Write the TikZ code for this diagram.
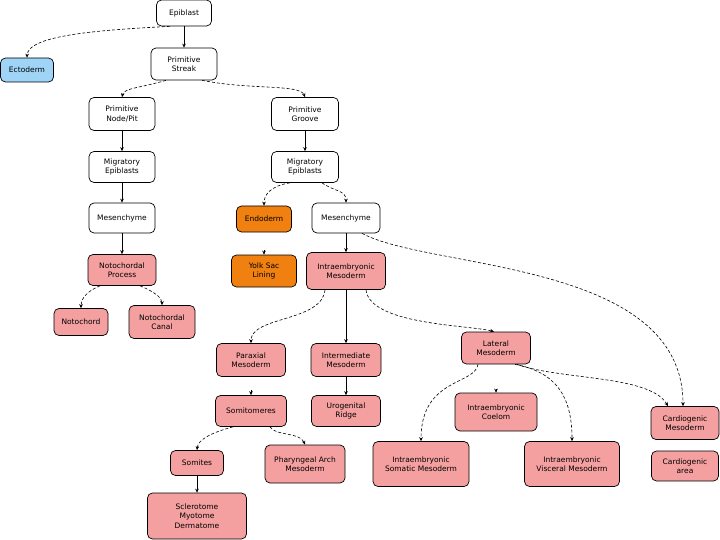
\documentclass[tikz,border=0pt]{standalone}
\usepackage{fontspec}
\setmainfont{DejaVu Sans}
\usetikzlibrary{arrows.meta,calc}
\definecolor{pinkbox}{RGB}{245,160,160}
\definecolor{orangebox}{RGB}{240,128,16}
\definecolor{bluebox}{RGB}{160,212,246}
\tikzset{
  box/.style={draw=black, line width=0.7pt, rounded corners=5pt, align=center,
    font=\fontsize{7.5}{9.5}\selectfont, inner sep=1pt},
  wbox/.style={box, fill=white},
  pbox/.style={box, fill=pinkbox},
  obox/.style={box, fill=orangebox},
  bbox/.style={box, fill=bluebox},
  sz/.style 2 args={minimum width=#1pt, minimum height=#2pt},
  arr/.style={-{Stealth[length=4pt,width=3.6pt]}, line width=0.6pt},
  darr/.style={arr, dash pattern=on 3pt off 2pt},
}
\begin{document}
\begin{tikzpicture}[x=1pt,y=-1pt]
\useasboundingbox (0,0) rectangle (720,540);
% nodes
\node[wbox, sz={55}{26}] (epi) at (184,13) {Epiblast};
\node[bbox, sz={53}{24}] (ecto) at (27,70) {Ectoderm};
\node[wbox, sz={66}{32}] (ps) at (184,64) {Primitive\\Streak};
\node[wbox, sz={66}{33}] (pit) at (122,114) {Primitive\\Node/Pit};
\node[wbox, sz={67}{33}] (groove) at (305,114) {Primitive\\Groove};
\node[wbox, sz={66}{31}] (migl) at (122,167) {Migratory\\Epiblasts};
\node[wbox, sz={67}{31}] (migr) at (305,167) {Migratory\\Epiblasts};
\node[wbox, sz={66}{30}] (mesl) at (122,218) {Mesenchyme};
\node[obox, sz={55}{26}] (endo) at (264,219) {Endoderm};
\node[wbox, sz={68}{30}] (mesr) at (346,218) {Mesenchyme};
\node[pbox, sz={68}{31}] (ncp) at (122,270) {Notochordal\\Process};
\node[obox, sz={65}{32}] (yolk) at (264,271) {Yolk Sac\\Lining};
\node[pbox, sz={79}{37}] (iem) at (346,271) {Intraembryonic\\Mesoderm};
\node[pbox, sz={54}{27}] (nc) at (81,322) {Notochord};
\node[pbox, sz={66}{33}] (ncc) at (162,322) {Notochordal\\Canal};
\node[pbox, sz={69}{33}] (para) at (251,360) {Paraxial\\Mesoderm};
\node[pbox, sz={70}{33}] (inter) at (346,360) {Intermediate\\Mesoderm};
\node[pbox, sz={69}{32}] (lat) at (496,348) {Lateral\\Mesoderm};
\node[pbox, sz={71}{31}] (somm) at (251,411) {Somitomeres};
\node[pbox, sz={69}{31}] (uro) at (346,411) {Urogenital\\Ridge};
\node[pbox, sz={82}{38}] (coel) at (496,412) {Intraembryonic\\Coelom};
\node[pbox, sz={68}{33}] (cardm) at (685,423) {Cardiogenic\\Mesoderm};
\node[pbox, sz={67}{30}] (carda) at (685,466) {Cardiogenic\\area};
\node[pbox, sz={53}{25}] (som) at (197,463) {Somites};
\node[pbox, sz={80}{38}] (pha) at (305,464) {Pharyngeal Arch\\Mesoderm};
\node[pbox, sz={96}{45}] (soma) at (421,464) {Intraembryonic\\Somatic Mesoderm};
\node[pbox, sz={95}{45}] (visc) at (572,464) {Intraembryonic\\Visceral Mesoderm};
\node[pbox, sz={99}{46}] (scl) at (197,516) {Sclerotome\\Myotome\\Dermatome};
% solid connectors
\draw[arr] (epi) -- (ps);
\draw[arr] (pit) -- (migl);
\draw[arr] (groove) -- (migr);
\draw[arr] (migl) -- (mesl);
\draw[arr] (mesl) -- (ncp);
\draw[arr] (mesr) -- (iem);
\draw[arr] (iem) -- (inter);
\draw[arr] (inter) -- (uro);
\draw[arr] (som) -- (scl);
% arrowhead-only connectors
\draw[arr, shorten <=17.5pt] (endo) -- (yolk);
\draw[arr, shorten <=13pt] (para) -- (somm);
\draw[arr, shorten <=24.5pt] (lat) -- (coel);
% dashed curved connectors
\draw[darr] ($(epi.south)+(-14,0)$) .. controls (100,30) and (28,35) .. (ecto.north);
\draw[darr] ($(ps.south)+(-18,0)$) .. controls (140,88) and (124,88) .. (pit.north);
\draw[darr] ($(ps.south)+(18,0)$) .. controls (250,90) and (300,84) .. (groove.north);
\draw[darr] ($(migr.south)+(-15,0)$) .. controls (270,186) and (264,195) .. (endo.north);
\draw[darr] ($(migr.south)+(17,0)$) .. controls (335,192) and (346,190) .. (mesr.north);
\draw[darr] ($(ncp.south)+(-22,0)$) .. controls (85,292) and (81,300) .. (nc.north);
\draw[darr] ($(ncp.south)+(18,0)$) .. controls (155,292) and (162,298) .. (ncc.north);
\draw[darr] ($(mesr.south)+(16,0)$) .. controls (430,270) and (683,260) .. ($(cardm.north)+(-2,0)$);
\draw[darr] ($(iem.south)+(-21,0)$) .. controls (322,322) and (251,316) .. (para.north);
\draw[darr] ($(iem.south)+(20,0)$) .. controls (370,325) and (470,325) .. ($(lat.north)+(-2,0)$);
\draw[darr] ($(lat.south)+(-18,0)$) .. controls (475,385) and (421,378) .. (soma.north);
\draw[darr] ($(lat.south)+(19,0)$) .. controls (555,372) and (572,395) .. (visc.north);
\draw[darr] ($(lat.south)+(21,0)$) .. controls (560,380) and (650,375) .. ($(cardm.north)+(-17,0)$);
\draw[darr] ($(somm.south)+(-18,0)$) .. controls (210,433) and (198,440) .. (som.north);
\draw[darr] ($(somm.south)+(19,0)$) .. controls (275,436) and (300,432) .. (pha.north);
\end{tikzpicture}
\end{document}
